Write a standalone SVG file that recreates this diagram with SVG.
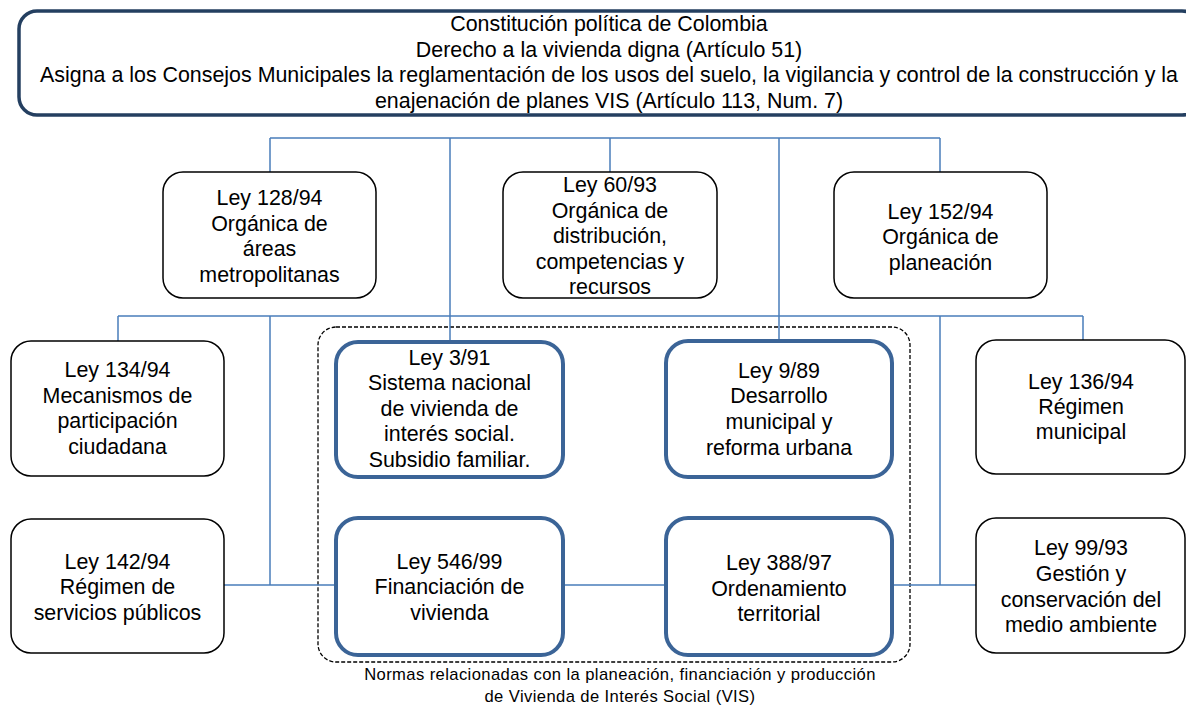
<svg xmlns="http://www.w3.org/2000/svg" width="1186" height="707" viewBox="0 0 1186 707">
<style>
text{font-family:"Liberation Sans",Arial,sans-serif;fill:#000;text-anchor:middle}
.t{font-size:21.4px}
.cap{font-size:16.6px;letter-spacing:0.4px}
.box{fill:#fff;stroke:#000;stroke-width:1.5}
.vbox{fill:#fff;stroke:#3B6497;stroke-width:4}
.top{fill:#fff;stroke:#243F60;stroke-width:3.5}
.c{stroke:#4A7EBB;stroke-width:1.5;fill:none}
.dash{fill:none;stroke:#000;stroke-width:1.3;stroke-dasharray:4 2}
</style>
<rect width="1186" height="707" fill="#fff"/>
<g id="vis-group">
<rect class="dash" x="318" y="327" width="592" height="335" rx="18"/>
<text class="cap" x="620" y="680">Normas relacionadas con la planeación, financiación y producción</text>
<text class="cap" x="620" y="702">de Vivienda de Interés Social (VIS)</text>
</g>
<g id="connectors">
<path class="c" d="M270 138H940M270 138V172M610 138V172M940 138V172M450 138V342M779 138V340"/>
<path class="c" d="M118 316H1083M118 316V341M1083 316V340M270 316V585M940 316V585"/>
<path class="c" d="M224 585H335M563 585H665M892 585H976"/>
</g>
<g id="constitucion">
<rect class="top" x="19" y="11" width="1181" height="104" rx="18"/>
<text class="t" x="609" y="31">Constitución política de Colombia</text>
<text class="t" x="609" y="56.5">Derecho a la vivienda digna (Artículo 51)</text>
<text class="t" x="609" y="82">Asigna a los Consejos Municipales la reglamentación de los usos del suelo, la vigilancia y control de la construcción y la</text>
<text class="t" x="609" y="107.5">enajenación de planes VIS (Artículo 113, Num. 7)</text>
</g>
<g id="ley128">
<rect class="box" x="163" y="172" width="213" height="126" rx="20"/>
<text class="t" x="269.5" y="205">Ley 128/94</text>
<text class="t" x="269.5" y="230.5">Orgánica de</text>
<text class="t" x="269.5" y="256">áreas</text>
<text class="t" x="269.5" y="282">metropolitanas</text>
</g>
<g id="ley60">
<rect class="box" x="503" y="172" width="214" height="126" rx="20"/>
<text class="t" x="610" y="192">Ley 60/93</text>
<text class="t" x="610" y="217.5">Orgánica de</text>
<text class="t" x="610" y="243">distribución,</text>
<text class="t" x="610" y="268.5">competencias y</text>
<text class="t" x="610" y="294">recursos</text>
</g>
<g id="ley152">
<rect class="box" x="834" y="172" width="213" height="126" rx="20"/>
<text class="t" x="940.5" y="219">Ley 152/94</text>
<text class="t" x="940.5" y="244">Orgánica de</text>
<text class="t" x="940.5" y="269.5">planeación</text>
</g>
<g id="ley134">
<rect class="box" x="11" y="341" width="213" height="135" rx="20"/>
<text class="t" x="117.5" y="377">Ley 134/94</text>
<text class="t" x="117.5" y="402.5">Mecanismos de</text>
<text class="t" x="117.5" y="428">participación</text>
<text class="t" x="117.5" y="454">ciudadana</text>
</g>
<g id="ley3">
<rect class="vbox" x="336" y="342" width="227" height="135" rx="22"/>
<text class="t" x="449.5" y="364.5">Ley 3/91</text>
<text class="t" x="449.5" y="390">Sistema nacional</text>
<text class="t" x="449.5" y="415.5">de vivienda de</text>
<text class="t" x="449.5" y="441">interés social.</text>
<text class="t" x="449.5" y="466.5">Subsidio familiar.</text>
</g>
<g id="ley9">
<rect class="vbox" x="666" y="341" width="226" height="136" rx="22"/>
<text class="t" x="779" y="377.5">Ley 9/89</text>
<text class="t" x="779" y="403">Desarrollo</text>
<text class="t" x="779" y="429">municipal y</text>
<text class="t" x="779" y="454.5">reforma urbana</text>
</g>
<g id="ley136">
<rect class="box" x="976" y="340" width="209" height="134" rx="20"/>
<text class="t" x="1081" y="388.5">Ley 136/94</text>
<text class="t" x="1081" y="413.5">Régimen</text>
<text class="t" x="1081" y="439">municipal</text>
</g>
<g id="ley142">
<rect class="box" x="11" y="519" width="213" height="134" rx="20"/>
<text class="t" x="117.5" y="568.5">Ley 142/94</text>
<text class="t" x="117.5" y="594">Régimen de</text>
<text class="t" x="117.5" y="619.5">servicios públicos</text>
</g>
<g id="ley546">
<rect class="vbox" x="336" y="518" width="227" height="137" rx="22"/>
<text class="t" x="449.5" y="568.5">Ley 546/99</text>
<text class="t" x="449.5" y="594">Financiación de</text>
<text class="t" x="449.5" y="619.5">vivienda</text>
</g>
<g id="ley388">
<rect class="vbox" x="666" y="518" width="226" height="137" rx="22"/>
<text class="t" x="779" y="570">Ley 388/97</text>
<text class="t" x="779" y="595.5">Ordenamiento</text>
<text class="t" x="779" y="621">territorial</text>
</g>
<g id="ley99">
<rect class="box" x="976" y="518" width="209" height="135" rx="20"/>
<text class="t" x="1081" y="555">Ley 99/93</text>
<text class="t" x="1081" y="580.5">Gestión y</text>
<text class="t" x="1081" y="606.5">conservación del</text>
<text class="t" x="1081" y="632">medio ambiente</text>
</g>
</svg>
